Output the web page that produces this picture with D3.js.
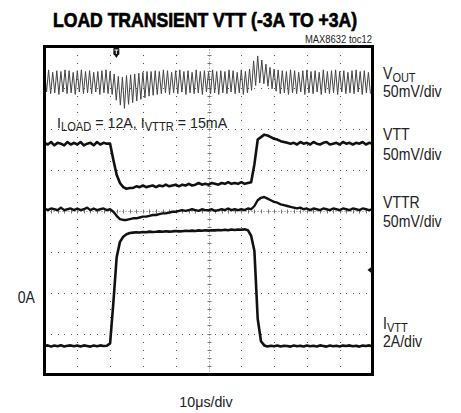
<!DOCTYPE html>
<meta charset="utf-8">
<style>
  body { margin: 0; background: #fff; }
  text { font-family: "Liberation Sans", Arial, sans-serif; fill: #222; }
</style>
<svg width="461" height="413"></svg>
<script src="https://cdnjs.cloudflare.com/ajax/libs/d3/7.8.5/d3.min.js"></script>
<script>

// time base: 10us/div, 10 divisions; samples every 1us for the slow traces
var timeTicks = [0, 10, 20, 30, 40, 50, 60, 70, 80, 90, 100];
var divTicks = [-4, -3, -2, -1, 0, 1, 2, 3, 4];

// VOUT ripple (mV), alternating peak / trough, one pair per 1.25us
var voutStep = 0.625;
var vout = [
  11,-14, 13,-16, 10,-15, 12,-17, 11,-14, 13,-16, 12,-15, 10,-17, 12,-14, 13,-16,
  11,-15, 12,-16, 10,-14, 11,-17, 12,-15, 13,-16, 11,-17,  8,-24,  5,-30,  4,-34,
   6,-29,  7,-27,  8,-25,  9,-23, 10,-21, 11,-19, 11,-18, 12,-17, 11,-16, 13,-15,
  12,-17, 10,-15, 12,-16, 13,-14, 11,-17, 12,-15, 10,-16, 13,-15, 11,-17, 12,-14,
  10,-16, 13,-15, 11,-17, 12,-15, 11,-16, 13,-14, 12,-16, 10,-15, 13,-17, 11,-15,
  14,-12, 24, -6, 30, -3, 25, -4, 20, -7, 16,-10, 14,-13, 13,-16, 12,-15, 11,-17,
  13,-15, 12,-16, 10,-14, 12,-17, 13,-15, 11,-16, 12,-14, 10,-17, 13,-15, 11,-16,
  12,-15, 13,-17, 11,-14, 12,-16, 10,-15, 12,-16, 13,-14, 11,-17, 12,-15, 10,-16
];

// VTT (mV), 0..100us
var vtt = [
    1, -1,  2, -2,  1,  0, -2,  2, -1,  1,
   -1,  2, -2,  0,  1, -2,  2, -1,  1,  0,
    0,-20,-38,-48,-53,-55,-54,-54,-52,-53,
  -51,-53,-52,-51,-53,-51,-52,-50,-52,-51,
  -50,-52,-50,-51,-49,-51,-50,-48,-50,-49,
  -50,-48,-49,-50,-48,-49,-47,-49,-48,-49,
  -47,-49,-48,-47,-25,  5,  8, 11, 10,  8,
    6,  5,  3,  2,  1,  0,  1, -1,  2,  0,
    1, -1,  2,  0, -1,  1,  2, -1,  0,  1,
   -1,  2,  0,  1, -1,  1,  0,  2, -1,  1,
    0
];

// VTTR (mV), 0..100us
var vttr = [
    1, -1,  1,  0, -1,  2, -1,  0,  1, -1,
    1, -1,  0,  2, -1,  1, -1,  0,  1, -1,
    0, -3, -8,-12,-13,-13,-12,-11,-11,-10,
   -9, -9, -8, -7, -7, -6, -5, -5, -4, -3,
   -3, -2, -1, -2, -1,  0, -1, -2,  0, -1,
   -1,  0, -2, -1,  0, -1,  1, -1,  0, -1,
    0, -1,  1,  0,  4, 11, 14, 15, 13, 11,
    9,  8,  6,  5,  4,  3,  2,  1,  2,  0,
    1, -1,  1,  0, -1,  1,  0, -1,  1,  0,
   -1,  1,  0, -1,  1,  0, -1,  1,  0, -1,
    0
];

// IVTT (A), 0..100us
var ivtt = [
  -2.43,-2.40,-2.46,-2.41,-2.44,-2.39,-2.45,-2.42,-2.40,-2.44,
  -2.41,-2.45,-2.40,-2.43,-2.46,-2.41,-2.44,-2.40,-2.43,-2.42,
  -2.30,-0.30, 1.90, 2.65, 2.90, 3.02, 3.08, 3.10, 3.12, 3.11,
   3.13, 3.12, 3.15, 3.13, 3.14, 3.16, 3.14, 3.17, 3.15, 3.16,
   3.18, 3.16, 3.17, 3.19, 3.18, 3.20, 3.18, 3.21, 3.19, 3.22,
   3.20, 3.22, 3.21, 3.23, 3.22, 3.24, 3.22, 3.25, 3.23, 3.25,
   3.24, 3.26, 3.22, 2.95, 2.20,-1.10,-2.20,-2.40,-2.45,-2.42,
  -2.44,-2.41,-2.45,-2.42,-2.43,-2.46,-2.41,-2.44,-2.42,-2.45,
  -2.41,-2.44,-2.42,-2.45,-2.40,-2.43,-2.46,-2.41,-2.44,-2.42,
  -2.45,-2.41,-2.43,-2.40,-2.44,-2.42,-2.46,-2.41,-2.43,-2.40,
  -2.44
];

// channel settings: screen offset (div) and units per division
var channels = [
  {name: "vout", data: vout, step: voutStep, offset: 3.17, perDiv: 50, width: 1, color: "#444"},
  {name: "vtt",  data: vtt,  step: 1, offset: 1.63, perDiv: 50, width: 2.6, color: "#111"},
  {name: "vttr", data: vttr, step: 1, offset: 0.03, perDiv: 50, width: 2.4, color: "#111"},
  {name: "ivtt", data: ivtt, step: 1, offset: -2.09, perDiv: 2, width: 2.6, color: "#111"}
];

var svg = d3.select("svg");
var box = {left: 44.5, right: 372.5, top: 46.5, bottom: 374.5};

var x = d3.scaleLinear().domain([0, 100]).range([box.left, box.right]);
var y = d3.scaleLinear().domain([-4, 4]).range([box.bottom, box.top]);

var g = svg.append("g");

// GRID (dotted, 5 dots per division)
var minorX = d3.range(0, 100.01, 2), minorY = d3.range(-4, 4.01, 0.2);
timeTicks.slice(1, -1).forEach(function(t) {
  if (t === 50) return;
  g.selectAll(null).data(minorY).enter().append("rect")
    .attr("x", Math.round(x(t))).attr("y", function(d) { return Math.round(y(d)); })
    .attr("width", 1).attr("height", 1).attr("fill", "#555");
});
divTicks.slice(1, -1).forEach(function(v) {
  if (v === 0) return;
  g.selectAll(null).data(minorX).enter().append("rect")
    .attr("x", function(d) { return Math.round(x(d)); }).attr("y", Math.round(y(v)))
    .attr("width", 1).attr("height", 1).attr("fill", "#555");
});

// centre crosshair with ticks
var cx = Math.round(x(50)) + 0.5, cy = Math.round(y(0)) + 0.5;
g.append("line").attr("x1", cx).attr("x2", cx).attr("y1", box.top).attr("y2", box.bottom)
  .attr("stroke", "#777").attr("stroke-width", 1).attr("stroke-dasharray", "1,2");
g.append("line").attr("y1", cy).attr("y2", cy).attr("x1", box.left).attr("x2", box.right)
  .attr("stroke", "#777").attr("stroke-width", 1).attr("stroke-dasharray", "1,2");
g.selectAll(null).data(minorY).enter().append("line")
  .attr("x1", cx - 2).attr("x2", cx + 2)
  .attr("y1", function(d) { return Math.round(y(d)) + 0.5; }).attr("y2", function(d) { return Math.round(y(d)) + 0.5; })
  .attr("stroke", "#777");
g.selectAll(null).data(minorX).enter().append("line")
  .attr("y1", cy - 2).attr("y2", cy + 2)
  .attr("x1", function(d) { return Math.round(x(d)) + 0.5; }).attr("x2", function(d) { return Math.round(x(d)) + 0.5; })
  .attr("stroke", "#777");

// TRACES
channels.forEach(function(c) {
  var line = d3.line()
    .x(function(d, i) { return x(i * c.step); })
    .y(function(d) { return y(c.offset + d / c.perDiv); });
  g.append("path")
    .attr("class", "trace " + c.name)
    .datum(c.data)
    .attr("d", line)
    .attr("fill", "none")
    .attr("stroke", c.color)
    .attr("stroke-width", c.width)
    .attr("stroke-linejoin", "round");
});

// FRAME
svg.append("rect")
  .attr("x", box.left).attr("y", box.top)
  .attr("width", box.right - box.left).attr("height", box.bottom - box.top)
  .attr("fill", "none").attr("stroke", "#000").attr("stroke-width", 3);

// trigger marker
var tx = x(21.9);
svg.append("rect").attr("x", tx - 3).attr("y", 48).attr("width", 6).attr("height", 7).attr("rx", 1).attr("fill", "#111");
svg.append("path").attr("d", "M" + (tx - 2) + ",50H" + (tx + 2) + "M" + tx + ",50V54")
  .attr("stroke", "#fff").attr("stroke-width", 1);
svg.append("path").attr("d", "M" + (tx - 2) + ",55L" + (tx + 2) + ",55L" + tx + ",58Z").attr("fill", "#111");

// level marker on right edge
svg.append("path")
  .attr("d", "M" + (box.right - 5) + "," + y(-1.45) + "l5,-4v8z")
  .attr("fill", "#111");

// TEXT (condensed look by squeezing horizontally)
function label(xp, yp, parts, size, sx, anchor) {
  var t = svg.append("text")
    .attr("transform", "translate(" + xp + "," + yp + ") scale(" + sx + ",1)")
    .attr("text-anchor", anchor || "start")
    .style("font-size", size + "px");
  parts.forEach(function(p) {
    var s = t.append("tspan").text(p[0]);
    if (p[1]) s.attr("dy", 2.5).style("font-size", (size * 0.78) + "px");
    else if (p[2]) s.attr("dy", -2.5);
  });
  return t;
}

svg.append("text")
  .attr("x", 205).attr("y", 27)
  .attr("text-anchor", "middle")
  .attr("font-weight", "bold")
  .attr("textLength", 304).attr("lengthAdjust", "spacingAndGlyphs")
  .style("font-size", "21px")
  .style("fill", "#000")
  .style("stroke", "#000").style("stroke-width", 0.7)
  .text("LOAD TRANSIENT VTT (-3A TO +3A)");

label(372, 43, [["MAX8632 toc12"]], 10.5, 0.9, "end");

label(57, 128, [["I"], ["LOAD", true], [" = 12A, I", false, true], ["VTTR", true], [" = 15mA", false, true]], 15.5, 0.92);

label(383, 79, [["V"], ["OUT", true]], 16, 0.88);
label(383, 97, [["50mV/div"]], 16, 0.88);
label(383, 140, [["VTT"]], 16, 0.88);
label(383, 160, [["50mV/div"]], 16, 0.88);
label(383, 208, [["VTTR"]], 16, 0.88);
label(383, 227, [["50mV/div"]], 16, 0.88);
label(383, 329, [["I"], ["VTT", true]], 16, 0.88);
label(383, 347, [["2A/div"]], 16, 0.88);

label(35, 303, [["0A"]], 16, 0.88, "end");
label(206, 407, [["10\u03bcs/div"]], 15, 0.95, "middle");

</script>
